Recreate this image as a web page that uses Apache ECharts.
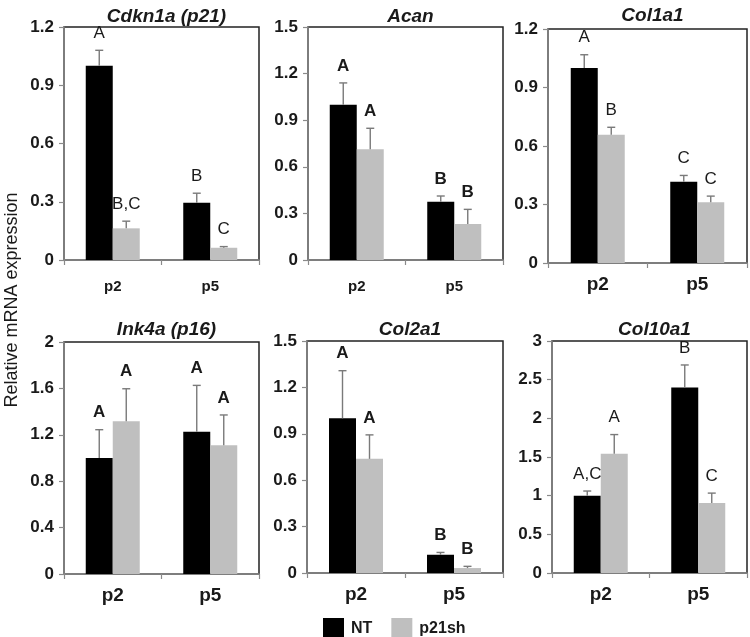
<!DOCTYPE html>
<html>
<head>
<meta charset="utf-8">
<script src="https://cdn.jsdelivr.net/npm/echarts@6/dist/echarts.min.js"></script>
<style>html,body{margin:0;padding:0;background:#fff}#c{width:750px;height:637px}</style>
</head>
<body>
<div id="c"></div>
<script>
// ---- data ----
const categories = ['p2', 'p5'];
const genes = ['Cdkn1a (p21)', 'Acan', 'Col1a1', 'Ink4a (p16)', 'Col2a1', 'Col10a1'];
const ntValues = [[1.0, 0.295], [1.0, 0.375], [1.0, 0.417], [1.0, 1.227], [1.0, 0.118], [1.0, 2.398]];
const ntErrors = [[0.08, 0.049], [0.14, 0.037], [0.068, 0.032], [0.244, 0.399], [0.308, 0.015], [0.06, 0.292]];
const shValues = [[0.163, 0.063], [0.713, 0.232], [0.658, 0.312], [1.316, 1.109], [0.738, 0.032], [1.541, 0.904]];
const shErrors = [[0.037, 0.006], [0.135, 0.094], [0.038, 0.031], [0.281, 0.262], [0.155, 0.011], [0.249, 0.129]];
const ntLetters = [['A', 'B'], ['A', 'B'], ['A', 'C'], ['A', 'A'], ['A', 'B'], ['A,C', 'B']];
const shLetters = [['B,C', 'C'], ['A', 'B'], ['B', 'C'], ['A', 'A'], ['A', 'B'], ['A', 'C']];
const yMax = [1.2, 1.5, 1.2, 2, 1.5, 3];
const yInterval = [0.3, 0.3, 0.3, 0.4, 0.3, 0.5];
const seriesNames = ['NT', 'p21sh'];

// ---- layout ----
const grids = [
  {left: 64, top: 27, width: 195, height: 233},
  {left: 308, top: 27, width: 195, height: 233},
  {left: 548, top: 29, width: 199, height: 234},
  {left: 64, top: 342, width: 195, height: 232},
  {left: 307, top: 341, width: 196, height: 232},
  {left: 552, top: 341, width: 195, height: 232}
];
const xFont = [15, 15, 19, 19, 19, 19];
const xMargin = [19, 19, 12, 12, 12, 12];
const letterBold = ['normal', 'bold', 'normal', 'bold', 'bold', 'normal'];
const titleTop = [2, 2, 1, 315, 315, 315];
const BW = 27;
const FONT = '"Liberation Sans", Arial, sans-serif';

const option = {
  animation: false,
  backgroundColor: '#fff',
  textStyle: {fontFamily: FONT},
  title: genes.map((g, i) => ({
    text: g,
    left: grids[i].left + grids[i].width / 2,
    top: titleTop[i],
    textAlign: 'center',
    textStyle: {fontSize: 19, fontWeight: 'bold', fontStyle: 'italic', color: '#1a1a1a', fontFamily: FONT}
  })),
  legend: {
    data: seriesNames,
    left: 318, top: 613,
    itemWidth: 21, itemHeight: 22, itemGap: 19,
    icon: 'rect',
    textStyle: {fontSize: 16, fontWeight: 'bold', color: '#1a1a1a', fontFamily: FONT, padding: [0, 0, 0, 2]}
  },
  grid: grids.map(g => Object.assign({show: true, borderColor: '#222', borderWidth: 1.5, backgroundColor: 'transparent'}, g)),
  xAxis: grids.map((g, i) => ({
    type: 'category', gridIndex: i, data: categories,
    axisLine: {lineStyle: {color: '#8a8a8a', width: 1.5}},
    axisTick: {show: true, length: 5, lineStyle: {color: '#8a8a8a', width: 1.2}},
    axisLabel: {fontSize: xFont[i], fontWeight: 'bold', color: '#1a1a1a', margin: xMargin[i], fontFamily: FONT}
  })),
  yAxis: grids.map((g, i) => ({
    type: 'value', gridIndex: i, min: 0, max: yMax[i], interval: yInterval[i],
    splitLine: {show: false},
    axisLine: {show: true, lineStyle: {color: '#8a8a8a', width: 1.5}},
    axisTick: {show: true, length: 5, lineStyle: {color: '#8a8a8a', width: 1.2}},
    axisLabel: {fontSize: 17, fontWeight: 'bold', color: '#1a1a1a', margin: 10, fontFamily: FONT,
      formatter: v => String(Math.round(v * 10) / 10)}
  })),
  graphic: [{
    type: 'text', x: 12, y: 300, rotation: Math.PI / 2,
    style: {text: 'Relative mRNA expression', font: '18px ' + FONT, fill: '#1a1a1a', textAlign: 'center', textVerticalAlign: 'middle'}
  }],
  series: []
};

function errSeries(i, name, vals, errs, letters, sign) {
  return {
    type: 'custom', name: name, xAxisIndex: i, yAxisIndex: i, z: 5,
    data: vals.map((v, k) => [k, v, v + errs[k]]),
    renderItem: (params, api) => {
      const k = api.value(0), v = api.value(1), t = api.value(2);
      const b = api.coord([k, v]);
      const tp = api.coord([k, t]);
      const cx = b[0] + sign * BW / 2;
      return {
        type: 'group', children: [
          {type: 'line', shape: {x1: cx, y1: b[1], x2: cx, y2: tp[1]}, style: {stroke: '#7a7a7a', lineWidth: 1.4}},
          {type: 'line', shape: {x1: cx - 4, y1: tp[1], x2: cx + 4, y2: tp[1]}, style: {stroke: '#7a7a7a', lineWidth: 1.4}},
          {type: 'text', style: {text: letters[params.dataIndex], x: cx, y: tp[1] - 17,
            textAlign: 'center', textVerticalAlign: 'middle',
            font: letterBold[i] + ' 17px ' + FONT, fill: '#1a1a1a'}}
        ]
      };
    }
  };
}

for (let i = 0; i < 6; i++) {
  option.series.push({
    type: 'bar', name: 'NT', xAxisIndex: i, yAxisIndex: i, data: ntValues[i],
    barWidth: BW, barGap: '0%', itemStyle: {color: '#000'}
  });
  option.series.push({
    type: 'bar', name: 'p21sh', xAxisIndex: i, yAxisIndex: i, data: shValues[i],
    barWidth: BW, barGap: '0%', itemStyle: {color: '#bfbfbf'}
  });
  option.series.push(errSeries(i, 'NT', ntValues[i], ntErrors[i], ntLetters[i], -1));
  option.series.push(errSeries(i, 'p21sh', shValues[i], shErrors[i], shLetters[i], 1));
}

const chart = echarts.init(document.getElementById('c'), null, {renderer: 'canvas'});
chart.setOption(option);
</script>
</body>
</html>
